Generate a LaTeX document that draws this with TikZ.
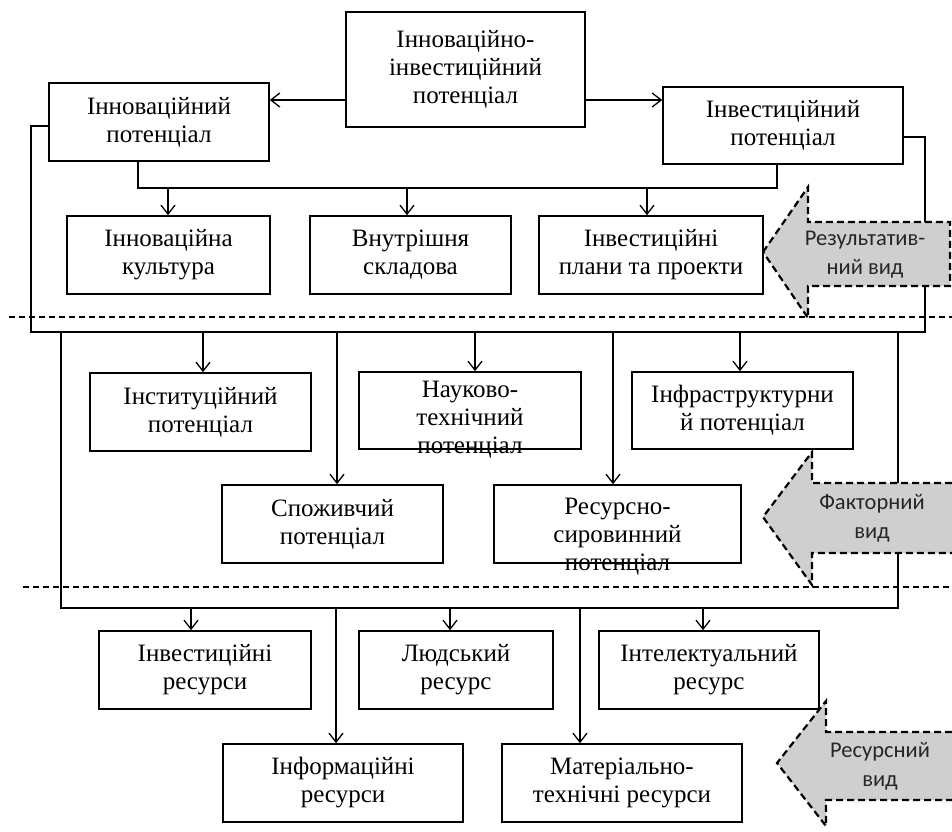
\documentclass[tikz,border=0pt]{standalone}
\usepackage{fontspec}
\setmainfont{Liberation Serif}
\newfontfamily\calfont{Carlito}
\usetikzlibrary{arrows.meta}
\begin{document}
\begin{tikzpicture}[x=1pt,y=-1pt,
  box/.style={draw, line width=1.6pt, fill=white, inner sep=0pt, align=center,
    font=\fontsize{25}{28}\selectfont},
  txt/.style={inner sep=0pt, align=center, font=\fontsize{25}{28}\selectfont},
  conn/.style={line width=1.3pt},
  arr/.style={line width=1.3pt, -{Straight Barb[length=9pt,width=14pt]}},
  sep/.style={line width=1.3pt, dash pattern=on 6pt off 4pt},
  bigarrow/.style={fill=gray!38, draw=none},
  bigdash/.style={line width=2.2pt, dash pattern=on 7pt off 4pt},
  lbl/.style={inner sep=0pt, align=center, font=\calfont\fontsize{22.5}{29}\selectfont, text=black!85}
]
\useasboundingbox (0,0) rectangle (952,831);
\fill[white] (0,0) rectangle (952,831);

% separators
\draw[sep] (9,317) -- (952,317);
\draw[sep] (23,587) -- (952,587);

% boxes
\node[box, line width=2.8pt, minimum width=239pt, minimum height=115pt] (top) at (465.5,69.5) {Інноваційно-\\інвестиційний\\потенціал};
\node[box, minimum width=220pt, minimum height=78pt] (inn) at (159,122) {Інноваційний\\потенціал};
\node[box, minimum width=240pt, minimum height=77pt] (inv) at (783,125.5) {Інвестиційний\\потенціал};

\node[box, minimum width=203pt, minimum height=78pt] (c1) at (168.5,255) {Інноваційна\\культура};
\node[box, minimum width=201pt, minimum height=78pt] (c2) at (410.5,255) {Внутрішня\\складова};
\node[box, minimum width=224pt, minimum height=78pt] (c3) at (651,255) {Інвестиційні\\плани та проекти};

% connectors top
\draw[arr] (top.west |- 0,100) -- (inn.east |- 0,100);
\draw[arr] (top.east |- 0,100) -- (inv.west |- 0,100);
\draw[conn] (inn.south -| 138,0) -- (138,188) -| (inv.south -| 777,0);
\draw[arr] (168,188) -- (c1.north -| 168,0);
\draw[arr] (407,188) -- (c2.north -| 407,0);
\draw[arr] (647,188) -- (c3.north -| 647,0);

% bus 332
\draw[conn] (inn.west |- 0,126) -| (31,332) -| (925,137) -- (inv.east |- 0,137);
% bus 608
\draw[conn] (61,332) |- (898,608) -- (898,332);

% level 2
\node[box, minimum width=221pt, minimum height=78pt] (s1) at (200.5,412) {Інституційний\\потенціал};
\node[box, minimum width=222pt, minimum height=77pt] (s2) at (470,410.5) {};
\node[txt] (s2t) at (470,420) {Науково-\\технічний\\потенціал};
\node[box, minimum width=221pt, minimum height=77pt] (s3) at (742.5,410.5) {Інфраструктурни\\й потенціал};
\node[box, minimum width=221pt, minimum height=78pt] (s4) at (332.5,524) {Споживчий\\потенціал};
\node[box, minimum width=247pt, minimum height=78pt] (s5) at (617.5,524) {};
\node[txt] (s5t) at (617.5,537) {Ресурсно-\\сировинний\\потенціал};

\draw[arr] (203,332) -- (s1.north -| 203,0);
\draw[arr] (475,332) -- (s2.north -| 475,0);
\draw[arr] (740,332) -- (s3.north -| 740,0);
\draw[arr] (337,332) -- (s4.north -| 337,0);
\draw[arr] (613,332) -- (s5.north -| 613,0);

% level 3
\node[box, minimum width=212pt, minimum height=78pt] (r1) at (205,670) {Інвестиційні\\ресурси};
\node[box, minimum width=194pt, minimum height=78pt] (r2) at (456,670) {Людський\\ресурс};
\node[box, minimum width=220pt, minimum height=78pt] (r3) at (709,670) {Інтелектуальний\\ресурс};
\node[box, minimum width=240pt, minimum height=78pt] (r4) at (343,783) {Інформаційні\\ресурси};
\node[box, minimum width=240pt, minimum height=78pt] (r5) at (622,783) {Матеріально-\\технічні ресурси};

\draw[arr] (191,608) -- (r1.north -| 191,0);
\draw[arr] (450,608) -- (r2.north -| 450,0);
\draw[arr] (703,608) -- (r3.north -| 703,0);
\draw[arr] (336,608) -- (r4.north -| 336,0);
\draw[arr] (580,608) -- (r5.north -| 580,0);

% big arrows
\fill[bigarrow] (763,252) -- (808,187) -- (808,222) -- (950,222) -- (950,286) -- (808,286) -- (808,318) -- cycle;
\draw[bigdash] (763,252) -- (808,187) -- (808,222) -- (950,222) -- (950,286) -- (808,286) -- (808,318) -- cycle;
\node[lbl] (a1) at (865,255) {Результатив-\\ний вид};

\fill[bigarrow] (763,517) -- (812,452) -- (812,483) -- (952,483) -- (952,553) -- (812,553) -- (812,585) -- cycle;
\draw[bigdash] (952,483) -- (812,483) -- (812,452) -- (763,517) -- (812,585) -- (812,553) -- (952,553);
\node[lbl] (a2) at (872,518) {Факторний\\вид};

\fill[bigarrow] (777,763) -- (826,701) -- (826,732) -- (952,732) -- (952,800) -- (826,800) -- (826,826) -- cycle;
\draw[bigdash] (952,732) -- (826,732) -- (826,701) -- (777,763) -- (826,826) -- (826,800) -- (952,800);
\node[lbl] (a3) at (880,766) {Ресурсний\\вид};
\end{tikzpicture}
\end{document}
